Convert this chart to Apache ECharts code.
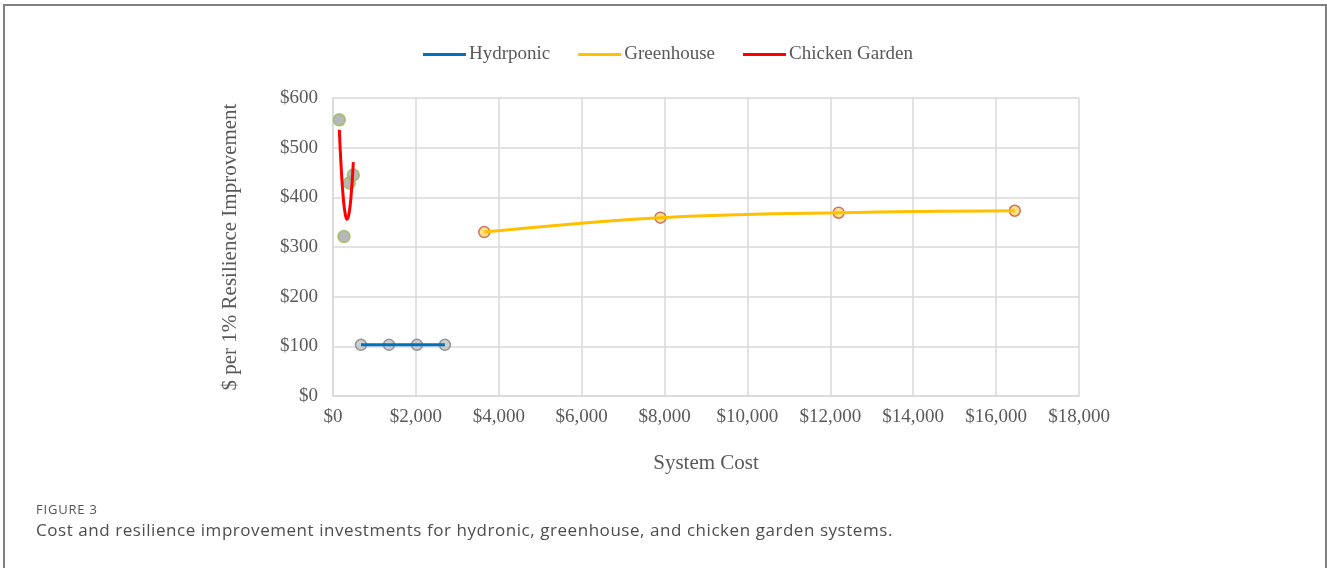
<!DOCTYPE html>
<html>
<head>
<meta charset="utf-8">
<script src="https://cdn.jsdelivr.net/npm/echarts@6/dist/echarts.min.js"></script>
<style>
  html, body { margin: 0; padding: 0; background: #fff; }
  #chart { width: 1327px; height: 568px; }
  #frame {
    position: absolute; left: 3px; top: 4px; width: 1320px; height: 600px;
    border: 2px solid #808080; border-bottom: none; pointer-events: none;
  }
  .cap { position: absolute; left: 36px; font-family: "Open Sans", sans-serif; white-space: nowrap; }
  #figno { top: 500px; font-size: 13px; letter-spacing: 0.8px; color: #555; }
  #captxt { top: 518px; font-size: 17px; letter-spacing: 0.55px; color: #4d4d4d; }
</style>
</head>
<body>
<div id="chart"></div>
<div id="frame"></div>
<div class="cap" id="figno">FIGURE 3</div>
<div class="cap" id="captxt">Cost and resilience improvement investments for hydronic, greenhouse, and chicken garden systems.</div>
<script>
// values
const hydroX = [675, 1350, 2025, 2700];
const hydroY = [103, 103, 103, 103];

const greenX = [3650, 7900, 12200, 16450];
const greenY = [330, 359, 369, 373];

const chickenX = [152, 265, 393, 490];
const chickenY = [556, 321, 429, 445];

// red trendline
const chickenTrendX = [152, 200, 250, 300, 340, 390, 440, 490];
const chickenTrendY = [536, 456, 397, 364, 356, 369, 407, 471];

const xTicks = { min: 0, max: 18000, step: 2000 };
const yTicks = { min: 0, max: 600, step: 100 };

const zip = (xs, ys) => xs.map((x, i) => [x, ys[i]]);
const serif = '"Liberation Serif", "Times New Roman", serif';
const textGrey = '#595959';
const gridGrey = '#d9d9d9';

const chart = echarts.init(document.getElementById('chart'));

const option = {
  animation: false,
  legend: {
    data: ['Hydrponic', 'Greenhouse', 'Chicken Garden'],
    left: 418,
    top: 40,
    icon: 'rect',
    itemWidth: 43,
    itemHeight: 3,
    itemGap: 28,
    textStyle: { fontFamily: serif, fontSize: 19, color: textGrey, padding: [0, 0, 0, -2] },
  },
  grid: { left: 333, right: 248, top: 98, bottom: 172 },
  xAxis: {
    type: 'value',
    min: xTicks.min, max: xTicks.max, interval: xTicks.step,
    name: 'System Cost',
    nameLocation: 'middle',
    nameGap: 57,
    nameTextStyle: { fontFamily: serif, fontSize: 21, color: textGrey },
    axisLine: { show: true, lineStyle: { color: gridGrey, width: 1.5 } },
    axisTick: { show: false },
    splitLine: { show: true, lineStyle: { color: gridGrey, width: 1.5 } },
    axisLabel: {
      margin: 12,
      fontFamily: serif, fontSize: 19, color: textGrey,
      formatter: (v) => '$' + v.toLocaleString('en-US'),
    },
  },
  yAxis: {
    type: 'value',
    min: yTicks.min, max: yTicks.max, interval: yTicks.step,
    name: '$ per 1% Resilience Improvement',
    nameLocation: 'middle',
    nameGap: 92,
    nameTextStyle: { fontFamily: serif, fontSize: 21, color: textGrey },
    axisLine: { show: true, lineStyle: { color: gridGrey, width: 1.5 } },
    axisTick: { show: false },
    splitLine: { show: true, lineStyle: { color: gridGrey, width: 1.5 } },
    axisLabel: {
      margin: 15,
      fontFamily: serif, fontSize: 19, color: textGrey,
      formatter: (v) => '$' + v,
    },
  },
  series: [
    // markers first, lines drawn over them
    {
      name: 'hydro-pts', type: 'scatter', data: zip(hydroX, hydroY),
      symbolSize: 11,
      itemStyle: { color: '#c3c3c3', borderColor: '#7f7f7f', borderWidth: 1.5 },
    },
    {
      name: 'green-pts', type: 'scatter', data: zip(greenX, greenY),
      symbolSize: 11,
      itemStyle: { color: '#ffd966', borderColor: '#c0504d', borderWidth: 1.5 },
    },
    {
      name: 'chicken-pts', type: 'scatter', data: zip(chickenX, chickenY),
      symbolSize: 12,
      itemStyle: { color: '#a5a5a5', borderColor: '#9bbb59', borderWidth: 1.5 },
    },
    {
      name: 'Hydrponic', type: 'line', data: zip(hydroX, hydroY),
      showSymbol: false, color: '#0070c0',
      lineStyle: { color: '#0070c0', width: 3 },
    },
    {
      name: 'Greenhouse', type: 'line', data: zip(greenX, greenY),
      showSymbol: false, smooth: 0.4, color: '#ffc000',
      lineStyle: { color: '#ffc000', width: 3 },
    },
    {
      name: 'Chicken Garden', type: 'line', data: zip(chickenTrendX, chickenTrendY),
      showSymbol: false, smooth: 0.5, color: '#ff0000',
      lineStyle: { color: '#ff0000', width: 3 },
    },
  ],
};

chart.setOption(option);
</script>
</body>
</html>
